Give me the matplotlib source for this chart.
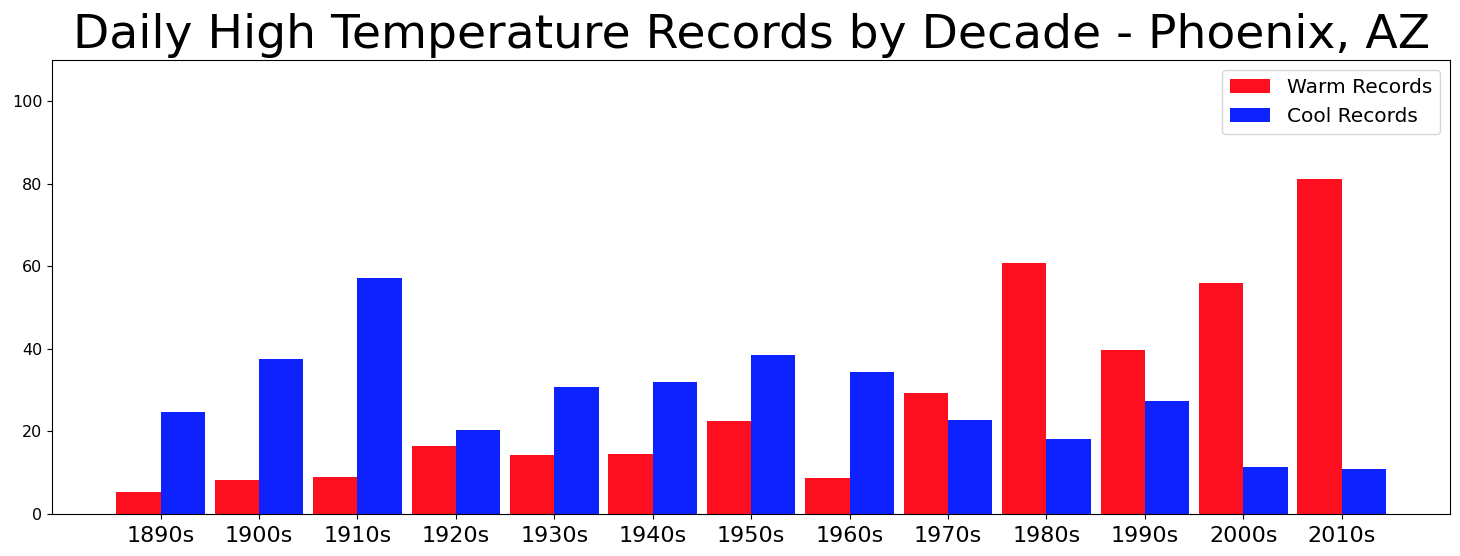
import matplotlib
matplotlib.use("Agg")
import matplotlib.pyplot as plt
import numpy as np

decades = ["1890s", "1900s", "1910s", "1920s", "1930s", "1940s", "1950s",
           "1960s", "1970s", "1980s", "1990s", "2000s", "2010s"]
warm_records = [5.3, 8.2, 9.0, 16.4, 14.3, 14.5, 22.5, 8.8, 29.3, 60.9, 39.8, 55.9, 81.2]
cool_records = [24.7, 37.6, 57.1, 20.4, 30.8, 32.0, 38.5, 34.4, 22.8, 18.2, 27.4, 11.4, 10.9]
y_ticks = [0, 20, 40, 60, 80, 100]

fig = plt.figure(figsize=(14.6, 5.56), dpi=100)
ax = fig.add_axes([52.3 / 1460, 1 - 514 / 556, (1450 - 52.3) / 1460, (514 - 60) / 556])

x = np.arange(len(decades))
w = 0.45
ax.bar(x, warm_records, width=-w, align="edge", color="#fc101f", label="Warm Records")
ax.bar(x, cool_records, width=w, align="edge", color="#0e22ff", label="Cool Records")

ax.set_xlim(-1.1, 13.1)
ax.set_ylim(0, 110)
ax.set_yticks(y_ticks)
ax.set_xticks(x)
ax.set_xticklabels(decades, fontsize=16)
ax.tick_params(axis="x", pad=5.5)
ax.tick_params(axis="y", labelsize=11.5)
ax.legend(loc="upper right", fontsize=14.5)
fig.text(752 / 1460, 1 - 48 / 556, "Daily High Temperature Records by Decade - Phoenix, AZ",
         fontsize=34, ha="center", va="baseline")

fig.savefig("out.png", dpi=100)
